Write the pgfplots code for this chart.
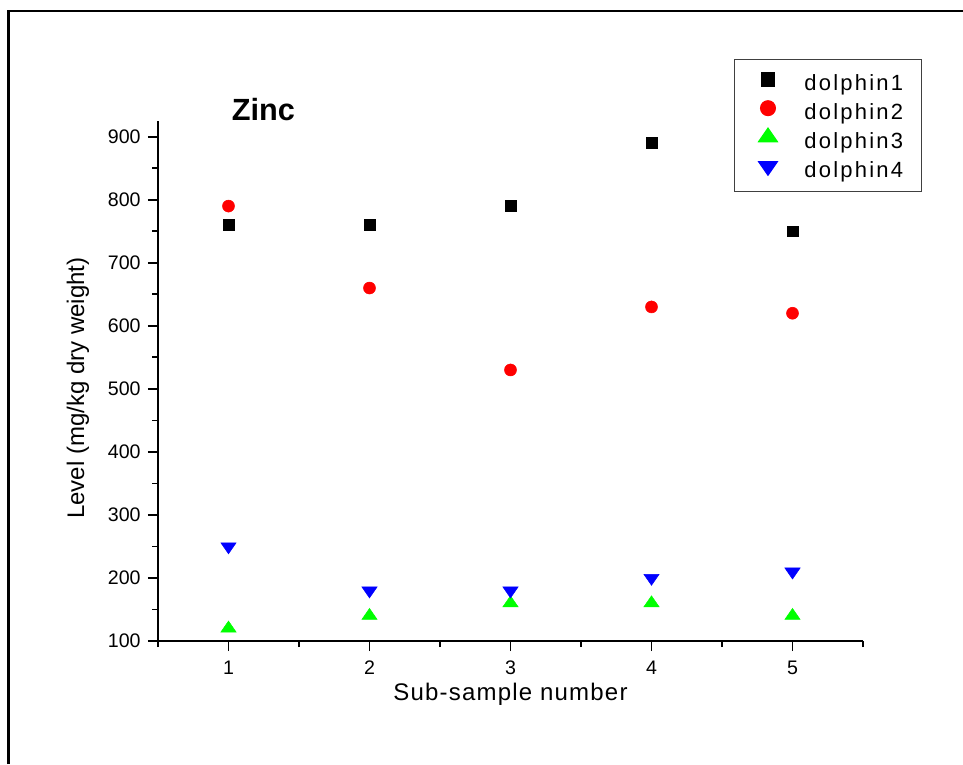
\documentclass[border=0pt]{standalone}
\usepackage{fontspec}
\setmainfont{Liberation Sans}
\newfontfamily\tickfont{Liberation Sans}
\newfontfamily\legfont[LetterSpace=10]{Liberation Sans}
\newfontfamily\labfont[LetterSpace=5]{Liberation Sans}
\usepackage{pgfplots}
\pgfplotsset{compat=1.18}
\definecolor{pgreen}{RGB}{0,255,0}
\definecolor{pred}{RGB}{255,0,0}
\definecolor{pblue}{RGB}{0,0,255}
\begin{document}
\begin{tikzpicture}
\useasboundingbox (0,0) rectangle (722.25pt,573pt);
\draw[line width=1.9pt] (6.5pt,0pt) -- (6.5pt,564.75pt) -- (722.25pt,564.75pt);
\begin{axis}[
  at={(118.5pt,92.25pt)}, anchor=south west,
  scale only axis, width=528.75pt, height=390pt,
  xmin=0.5, xmax=5.5, ymin=100, ymax=925,
  axis x line*=bottom, axis y line*=left,
  axis line style={-, line width=1.5pt},
  xtick={1,2,3,4,5}, ytick={100,200,300,400,500,600,700,800,900},
  xticklabels={1,2,3,4,5},
  yticklabels={100,200,300,400,500,600,700,800,900},
  minor xtick={0.5,1.5,2.5,3.5,4.5,5.5},
  minor ytick={150,250,...,850},
  tick align=outside,
  major tick length=7.5pt, minor tick length=4.5pt,
  every tick/.style={black, line width=1.3pt},
  tick label style={font=\tickfont\fontsize{14.7}{17}\selectfont},
  xticklabel style={yshift=-4pt},
  yticklabel style={xshift=-2pt},
  xlabel={Sub-sample number},
  ylabel={Level (mg/kg dry weight)},
  xlabel style={font=\labfont\fontsize{18}{21}\selectfont, at={(axis description cs:0.5,-0.1144)}, anchor=base},
  ylabel style={font=\tickfont\fontsize{18}{21}\selectfont, at={(axis description cs:-0.1135,0.4865)}, anchor=center},
  title={Zinc},
  title style={font=\bfseries\fontsize{23}{27}\selectfont, at={(axis description cs:0.1496,0.986)}, anchor=base},
  clip=false,
  legend style={at={(axis description cs:0.817,1.119)}, anchor=north west,
    draw=black!75, line width=0.75pt,
    font=\legfont\fontsize{16.5}{19}\selectfont,
    inner xsep=13.5pt, inner ysep=6pt, row sep=0pt,
    nodes={inner sep=0pt, text height=17pt, text depth=4.75pt},
    /tikz/every odd column/.append style={column sep=0pt}},
  legend cell align=left,
  legend image code/.code={\path (0pt,0pt) (38.25pt,0pt); \draw[#1] plot coordinates {(11.25pt,2.2pt)};},
  legend image post style={/tikz/every mark/.append style={scale=1.25}},
]
\addplot[only marks, mark=square*, mark size=4.1pt, color=black] coordinates {(1,760) (2,760) (3,790) (4,890) (5,750)};
\addlegendentry{dolphin1}
\addplot[only marks, mark=*, mark size=4.5pt, color=pred] coordinates {(1,790) (2,660) (3,530) (4,630) (5,620)};
\addlegendentry{dolphin2}
\addplot[only marks, mark=triangle*, mark size=5.5pt, color=pgreen, mark options={xscale=1.2}] coordinates {(1,120) (2,140) (3,160) (4,160) (5,140)};
\addlegendentry{dolphin3}
\addplot[only marks, mark=triangle*, mark size=5.5pt, color=pblue, mark options={xscale=1.2, rotate=180}] coordinates {(1,250) (2,180) (3,180) (4,200) (5,210)};
\addlegendentry{dolphin4}
\end{axis}
\end{tikzpicture}
\end{document}
